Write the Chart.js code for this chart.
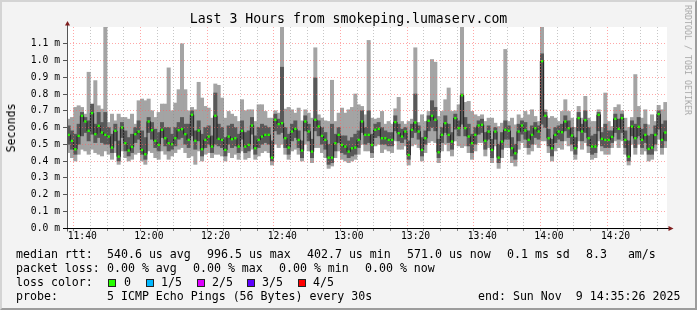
<!DOCTYPE html>
<html>
<head>
<meta charset="utf-8">
<script src="https://cdn.jsdelivr.net/npm/chart.js@4.4.1/dist/chart.umd.min.js"></script>
<style>
html, body { margin: 0; padding: 0; background: #f3f3f3; }
#wrap { position: relative; width: 697px; height: 310px; overflow: hidden; font-family: "DejaVu Sans Mono", monospace; color: #000; }
#chart { position: absolute; left: 0; top: 0; }
#frame { position: absolute; left: 0; top: 0; width: 697px; height: 310px; box-sizing: border-box;
  border-top: 2px solid #d4d4d4; border-left: 2px solid #d4d4d4; border-right: 2px solid #9c9c9c; border-bottom: 2px solid #9c9c9c; pointer-events: none; }
.t { position: absolute; white-space: pre; font-size: 11.6px; line-height: 14px; }
.title { position: absolute; left: 0; width: 697px; top: 11px; text-align: center; font-size: 13.2px; line-height: 16px; white-space: pre; }
.ylab { position: absolute; left: 10.5px; top: 127.5px; font-size: 11.6px; white-space: pre; transform: translate(-50%, -50%) rotate(-90deg); }
.mark { position: absolute; left: 688px; top: 60px; font-size: 8.3px; color: #a8a8a8; white-space: pre; transform: translate(-50%, -50%) rotate(90deg); }
.box { position: absolute; width: 6px; height: 6px; border: 1px solid #222; top: 279px; }
</style>
</head>
<body>
<div id="wrap">
  <canvas id="chart" width="697" height="310"></canvas>
  <div class="title">Last 3 Hours from smokeping.lumaserv.com</div>
  <div class="ylab">Seconds</div>
  <div class="mark">RRDTOOL / TOBI OETIKER</div>

  <span class="t" style="left:16px;top:247px">median rtt:</span>
  <span class="t" style="left:107px;top:247px">540.6 us avg</span>
  <span class="t" style="left:207px;top:247px">996.5 us max</span>
  <span class="t" style="left:307px;top:247px">402.7 us min</span>
  <span class="t" style="left:407px;top:247px">571.0 us now</span>
  <span class="t" style="left:507px;top:247px">0.1 ms sd</span>
  <span class="t" style="left:586px;top:247px">8.3   am/s</span>

  <span class="t" style="left:16px;top:261px">packet loss:</span>
  <span class="t" style="left:107px;top:261px">0.00 % avg</span>
  <span class="t" style="left:193px;top:261px">0.00 % max</span>
  <span class="t" style="left:279px;top:261px">0.00 % min</span>
  <span class="t" style="left:365px;top:261px">0.00 % now</span>

  <span class="t" style="left:16px;top:275px">loss color:</span>
  <span class="box" style="left:108px;background:#26ff00"></span><span class="t" style="left:124px;top:275px">0</span>
  <span class="box" style="left:146px;background:#00b8ff"></span><span class="t" style="left:161px;top:275px">1/5</span>
  <span class="box" style="left:197px;background:#dd00ff"></span><span class="t" style="left:212px;top:275px">2/5</span>
  <span class="box" style="left:247px;background:#5e00ff"></span><span class="t" style="left:262px;top:275px">3/5</span>
  <span class="box" style="left:298px;background:#ff0000"></span><span class="t" style="left:313px;top:275px">4/5</span>

  <span class="t" style="left:16px;top:289px">probe:</span>
  <span class="t" style="left:107px;top:289px">5 ICMP Echo Pings (56 Bytes) every 30s</span>
  <span class="t" style="left:478px;top:289px">end: Sun Nov  9 14:35:26 2025</span>
  <div id="frame"></div>
</div>
<script>
// time axis in minutes since midnight, one sample per minute
var startMinute = 11 * 60 + 35 + 26 / 60;   // 11:35:26
var endMinute = startMinute + 180;            // 14:35:26
var timeLabels = ['11:40', '12:00', '12:20', '12:40', '13:00', '13:20', '13:40', '14:00', '14:20'];

// round trip times in ms, sorted pings per sample: min, 2nd, median, 4th, max
var pingMedian = [
  0.556, 0.52, 0.47, 0.55, 0.67, 0.636, 0.58, 0.686, 0.56, 0.61, 0.57, 0.556, 0.546, 0.48, 0.58, 0.426, 0.60, 0.506, 0.462, 0.484, 0.56, 0.576, 0.466, 0.44, 0.636, 0.584, 0.52, 0.496, 0.586, 0.536,
  0.506, 0.50, 0.536, 0.584, 0.59, 0.56, 0.526, 0.676, 0.52, 0.582, 0.47, 0.526, 0.546, 0.486, 0.67, 0.532, 0.526, 0.466, 0.546, 0.53, 0.536, 0.486, 0.58, 0.486, 0.496, 0.612, 0.476, 0.526, 0.546, 0.556,
  0.556, 0.42, 0.646, 0.62, 0.626, 0.536, 0.48, 0.576, 0.592, 0.526, 0.462, 0.636, 0.576, 0.456, 0.646, 0.606, 0.55, 0.526, 0.42, 0.42, 0.506, 0.556, 0.496, 0.486, 0.456, 0.476, 0.48, 0.526, 0.636, 0.556,
  0.556, 0.496, 0.586, 0.592, 0.536, 0.536, 0.526, 0.526, 0.632, 0.566, 0.546, 0.576, 0.436, 0.586, 0.63, 0.576, 0.466, 0.536, 0.64, 0.67, 0.646, 0.452, 0.556, 0.626, 0.556, 0.516, 0.656, 0.596, 0.792, 0.596,
  0.546, 0.506, 0.556, 0.612, 0.616, 0.52, 0.576, 0.466, 0.576, 0.42, 0.516, 0.586, 0.58, 0.476, 0.446, 0.576, 0.612, 0.582, 0.526, 0.556, 0.596, 0.576, 0.996, 0.67, 0.536, 0.476, 0.556, 0.576, 0.572, 0.636,
  0.596, 0.552, 0.476, 0.656, 0.576, 0.644, 0.536, 0.486, 0.486, 0.676, 0.532, 0.526, 0.526, 0.544, 0.652, 0.592, 0.656, 0.526, 0.426, 0.606, 0.536, 0.604, 0.526, 0.556, 0.472, 0.48, 0.556, 0.68, 0.526, 0.57
];
var pingMax = [
  0.65, 0.66, 0.72, 0.73, 0.72, 0.68, 0.93, 0.73, 0.88, 0.73, 0.71, 1.2, 0.63, 0.68, 0.64, 0.68, 0.66, 0.66, 0.65, 0.68, 0.62, 0.76, 0.77, 0.76, 0.77, 0.70, 0.66, 0.69, 0.74, 0.74,
  0.956, 0.70, 0.746, 0.826, 1.10, 0.826, 0.70, 0.72, 0.706, 0.87, 0.776, 0.726, 0.716, 0.656, 0.86, 0.852, 0.776, 0.656, 0.696, 0.68, 0.666, 0.636, 0.766, 0.70, 0.706, 0.706, 0.636, 0.736, 0.736, 0.696,
  0.656, 0.656, 0.70, 0.686, 1.2, 0.71, 0.72, 0.706, 0.686, 0.716, 0.64, 0.706, 0.686, 0.656, 1.076, 0.676, 0.656, 0.64, 0.636, 0.882, 0.636, 0.686, 0.716, 0.686, 0.706, 0.72, 0.80, 0.736, 0.726, 0.676,
  1.12, 0.656, 0.65, 0.656, 0.696, 0.62, 0.636, 0.62, 0.712, 0.78, 0.636, 0.62, 0.636, 0.65, 1.076, 0.63, 0.676, 0.636, 0.696, 1.006, 0.99, 0.666, 0.696, 0.766, 0.836, 0.696, 0.70, 0.736, 1.2, 0.75,
  0.756, 0.696, 0.676, 0.666, 0.676, 0.636, 0.656, 0.656, 0.626, 0.606, 0.626, 1.066, 0.636, 0.656, 0.616, 0.676, 0.656, 0.696, 0.676, 0.706, 0.666, 0.636, 1.2, 0.706, 0.656, 0.666, 0.656, 0.636, 0.696, 0.766,
  0.696, 0.656, 0.60, 0.726, 0.656, 0.786, 0.656, 0.636, 0.636, 0.706, 0.60, 0.806, 0.636, 0.606, 0.72, 0.736, 0.70, 0.656, 0.60, 0.66, 0.916, 0.726, 0.656, 0.706, 0.616, 0.676, 0.636, 0.732, 0.706, 0.75
];
var pingHigh = [
  0.61, 0.58, 0.56, 0.62, 0.69, 0.66, 0.64, 0.74, 0.62, 0.69, 0.63, 0.69, 0.60, 0.56, 0.62, 0.52, 0.63, 0.58, 0.54, 0.56, 0.60, 0.64, 0.58, 0.54, 0.66, 0.63, 0.59, 0.57, 0.63, 0.60,
  0.60, 0.56, 0.60, 0.63, 0.66, 0.62, 0.62, 0.70, 0.58, 0.64, 0.56, 0.60, 0.61, 0.55, 0.806, 0.62, 0.60, 0.54, 0.61, 0.62, 0.60, 0.56, 0.64, 0.57, 0.58, 0.66, 0.55, 0.60, 0.62, 0.61,
  0.60, 0.52, 0.68, 0.65, 0.96, 0.60, 0.56, 0.62, 0.64, 0.58, 0.52, 0.67, 0.62, 0.53, 0.896, 0.64, 0.60, 0.57, 0.50, 0.62, 0.56, 0.60, 0.55, 0.55, 0.52, 0.54, 0.56, 0.58, 0.70, 0.60,
  0.70, 0.56, 0.62, 0.63, 0.60, 0.58, 0.57, 0.57, 0.67, 0.62, 0.59, 0.60, 0.52, 0.62, 0.80, 0.61, 0.54, 0.58, 0.67, 0.76, 0.72, 0.53, 0.60, 0.67, 0.62, 0.57, 0.68, 0.64, 0.80, 0.66,
  0.62, 0.56, 0.60, 0.64, 0.65, 0.57, 0.61, 0.53, 0.60, 0.50, 0.57, 0.64, 0.61, 0.54, 0.50, 0.62, 0.64, 0.63, 0.58, 0.61, 0.63, 0.61, 1.04, 0.69, 0.59, 0.53, 0.60, 0.61, 0.62, 0.67,
  0.64, 0.60, 0.54, 0.69, 0.62, 0.70, 0.60, 0.55, 0.56, 0.69, 0.57, 0.62, 0.58, 0.58, 0.68, 0.65, 0.68, 0.58, 0.52, 0.64, 0.62, 0.66, 0.59, 0.62, 0.55, 0.56, 0.61, 0.70, 0.62, 0.64
];
var pingLow = [
  0.50, 0.47, 0.44, 0.50, 0.55, 0.57, 0.52, 0.56, 0.51, 0.54, 0.51, 0.50, 0.50, 0.45, 0.52, 0.40, 0.54, 0.46, 0.43, 0.45, 0.51, 0.53, 0.44, 0.41, 0.57, 0.53, 0.48, 0.46, 0.54, 0.49,
  0.46, 0.47, 0.49, 0.53, 0.54, 0.50, 0.48, 0.55, 0.47, 0.52, 0.43, 0.48, 0.50, 0.45, 0.50, 0.49, 0.48, 0.43, 0.50, 0.48, 0.49, 0.45, 0.53, 0.45, 0.46, 0.56, 0.44, 0.48, 0.50, 0.51,
  0.50, 0.40, 0.58, 0.56, 0.57, 0.48, 0.44, 0.52, 0.54, 0.48, 0.42, 0.58, 0.52, 0.42, 0.58, 0.55, 0.50, 0.47, 0.38, 0.39, 0.46, 0.51, 0.45, 0.44, 0.42, 0.43, 0.44, 0.48, 0.57, 0.50,
  0.51, 0.45, 0.54, 0.55, 0.50, 0.50, 0.49, 0.49, 0.58, 0.52, 0.51, 0.53, 0.41, 0.54, 0.57, 0.53, 0.43, 0.50, 0.58, 0.60, 0.58, 0.42, 0.51, 0.57, 0.51, 0.47, 0.59, 0.55, 0.62, 0.55,
  0.49, 0.45, 0.50, 0.56, 0.57, 0.47, 0.53, 0.42, 0.53, 0.39, 0.47, 0.53, 0.53, 0.43, 0.41, 0.52, 0.56, 0.53, 0.48, 0.50, 0.54, 0.53, 0.62, 0.60, 0.49, 0.43, 0.51, 0.53, 0.52, 0.58,
  0.54, 0.50, 0.44, 0.58, 0.52, 0.57, 0.49, 0.44, 0.45, 0.58, 0.49, 0.48, 0.48, 0.51, 0.57, 0.53, 0.57, 0.48, 0.40, 0.55, 0.48, 0.55, 0.48, 0.51, 0.44, 0.44, 0.50, 0.59, 0.48, 0.52
];
var pingMin = [
  0.45, 0.42, 0.40, 0.44, 0.47, 0.46, 0.44, 0.47, 0.45, 0.44, 0.43, 0.46, 0.44, 0.41, 0.45, 0.38, 0.46, 0.42, 0.40, 0.41, 0.44, 0.45, 0.40, 0.38, 0.46, 0.45, 0.42, 0.41, 0.46, 0.44,
  0.41, 0.43, 0.45, 0.47, 0.48, 0.45, 0.42, 0.43, 0.38, 0.46, 0.40, 0.44, 0.45, 0.42, 0.44, 0.44, 0.43, 0.40, 0.45, 0.42, 0.44, 0.41, 0.46, 0.41, 0.42, 0.47, 0.41, 0.43, 0.45, 0.46,
  0.45, 0.376, 0.50, 0.48, 0.50, 0.44, 0.41, 0.46, 0.47, 0.44, 0.40, 0.50, 0.46, 0.39, 0.48, 0.48, 0.45, 0.42, 0.356, 0.37, 0.42, 0.46, 0.41, 0.40, 0.39, 0.40, 0.41, 0.44, 0.50, 0.46,
  0.46, 0.42, 0.49, 0.50, 0.45, 0.47, 0.46, 0.45, 0.52, 0.47, 0.47, 0.49, 0.376, 0.49, 0.50, 0.48, 0.40, 0.45, 0.51, 0.52, 0.51, 0.39, 0.46, 0.50, 0.46, 0.43, 0.52, 0.49, 0.48, 0.49,
  0.45, 0.41, 0.46, 0.51, 0.51, 0.43, 0.48, 0.39, 0.49, 0.356, 0.42, 0.48, 0.48, 0.39, 0.37, 0.47, 0.51, 0.48, 0.44, 0.46, 0.50, 0.48, 0.52, 0.52, 0.45, 0.40, 0.46, 0.48, 0.47, 0.52,
  0.49, 0.46, 0.41, 0.52, 0.47, 0.51, 0.45, 0.41, 0.42, 0.52, 0.46, 0.44, 0.44, 0.48, 0.52, 0.48, 0.52, 0.44, 0.376, 0.50, 0.44, 0.50, 0.44, 0.46, 0.40, 0.41, 0.46, 0.53, 0.44, 0.48
];

var medianBand = 0.007;   // half height of the loss coloured median mark, ms
var majorGrid = 'rgba(255, 95, 95, 0.55)';
var minorGrid = 'rgba(130, 130, 130, 0.45)';

function minuteOf(label) {
  var p = label.split(':');
  return parseInt(p[0], 10) * 60 + parseInt(p[1], 10);
}
var labelMinutes = timeLabels.map(minuteOf);

var gridMinutes = [];
for (var m = Math.ceil(startMinute / 5) * 5; m <= endMinute; m += 5) gridMinutes.push(m);

function sampleX(i) { return startMinute + 0.5 + i; }

var smokeOuter = pingMin.map(function (v, i) { return { x: sampleX(i), y: [v, pingMax[i]] }; });
var smokeInner = pingLow.map(function (v, i) { return { x: sampleX(i), y: [v, pingHigh[i]] }; });
var medianLine = pingMedian.map(function (v, i) { return { x: sampleX(i), y: v }; });
var medianMark = pingMedian.map(function (v, i) { return { x: sampleX(i), y: [v - medianBand, v + medianBand] }; });

// white plot background, solid axis lines and the rrdtool style arrow heads
var frameDeco = {
  id: 'frameDeco',
  beforeDraw: function (chart) {
    var a = chart.chartArea, ctx = chart.ctx;
    ctx.save();
    ctx.fillStyle = '#ffffff';
    ctx.fillRect(a.left, a.top, a.right - a.left, a.bottom - a.top);
    ctx.restore();
  },
  afterDraw: function (chart) {
    var a = chart.chartArea, ctx = chart.ctx;
    var lx = Math.round(a.left) + 0.5, by = Math.round(a.bottom) + 0.5;
    ctx.save();
    ctx.lineWidth = 1;
    ctx.strokeStyle = '#555';
    ctx.beginPath();
    ctx.moveTo(lx, by + 3); ctx.lineTo(lx, a.top - 4);
    ctx.stroke();
    ctx.strokeStyle = '#000';
    ctx.beginPath();
    ctx.moveTo(a.left - 4, by); ctx.lineTo(a.right + 2, by);
    ctx.stroke();
    ctx.fillStyle = '#7f1d1d';
    ctx.beginPath();
    ctx.moveTo(lx - 2.5, a.top - 1.5); ctx.lineTo(lx + 2.5, a.top - 1.5); ctx.lineTo(lx, a.top - 6);
    ctx.closePath(); ctx.fill();
    ctx.beginPath();
    ctx.moveTo(a.right + 1.5, by - 2.5); ctx.lineTo(a.right + 1.5, by + 2.5); ctx.lineTo(a.right + 6.5, by);
    ctx.closePath(); ctx.fill();
    ctx.restore();
  }
};

var tickFont = { family: 'DejaVu Sans Mono', size: 9.7 };

new Chart(document.getElementById('chart').getContext('2d'), {
  type: 'bar',
  data: {
    datasets: [
      { data: smokeOuter, backgroundColor: '#a4a4a4', grouped: false, barPercentage: 1, categoryPercentage: 1, order: 4 },
      { data: smokeInner, backgroundColor: '#585858', grouped: false, barPercentage: 1, categoryPercentage: 1, order: 3 },
      { type: 'line', data: medianLine, borderColor: '#202020', borderWidth: 1, stepped: 'middle', pointRadius: 0, order: 2 },
      { data: medianMark, backgroundColor: '#26ff00', grouped: false, barPercentage: 0.7, categoryPercentage: 1, order: 1 }
    ]
  },
  options: {
    responsive: false,
    animation: false,
    devicePixelRatio: 1,
    events: [],
    layout: { padding: { left: 0, top: 27, right: 30, bottom: 62 } },
    plugins: { legend: { display: false }, tooltip: { enabled: false }, title: { display: false } },
    scales: {
      x: {
        type: 'linear',
        min: startMinute,
        max: endMinute,
        offset: false,
        afterFit: function (scale) { scale.height = 20; },
        afterBuildTicks: function (scale) {
          scale.ticks = gridMinutes.map(function (v) { return { value: v }; });
        },
        ticks: {
          autoSkip: false, maxRotation: 0, padding: 0, color: '#000', font: tickFont,
          callback: function (v) {
            var k = labelMinutes.indexOf(v);
            return k >= 0 ? timeLabels[k] : '';
          }
        },
        grid: {
          z: 1,
          tickLength: 3,
          tickColor: '#888',
          color: function (c) { return c.tick && c.tick.value % 20 === 0 ? majorGrid : minorGrid; }
        },
        border: { display: false, dash: [1, 2] }
      },
      y: {
        min: 0,
        max: 1.2,
        afterFit: function (scale) { scale.width = 67; },
        ticks: {
          stepSize: 0.1, padding: 3, color: '#000', font: tickFont,
          callback: function (v) { return v > 1.15 ? '' : v.toFixed(1) + ' m'; }
        },
        grid: {
          z: 1,
          tickLength: 4,
          tickColor: function (c) { return c.tick && c.tick.value > 1.15 ? 'rgba(0,0,0,0)' : '#555'; },
          color: function (c) { return c.tick && (c.tick.value > 1.15 || c.tick.value < 0.05) ? 'rgba(0,0,0,0)' : majorGrid; }
        },
        border: { display: false, dash: [1, 2] }
      }
    }
  },
  plugins: [frameDeco]
});
</script>
</body>
</html>
